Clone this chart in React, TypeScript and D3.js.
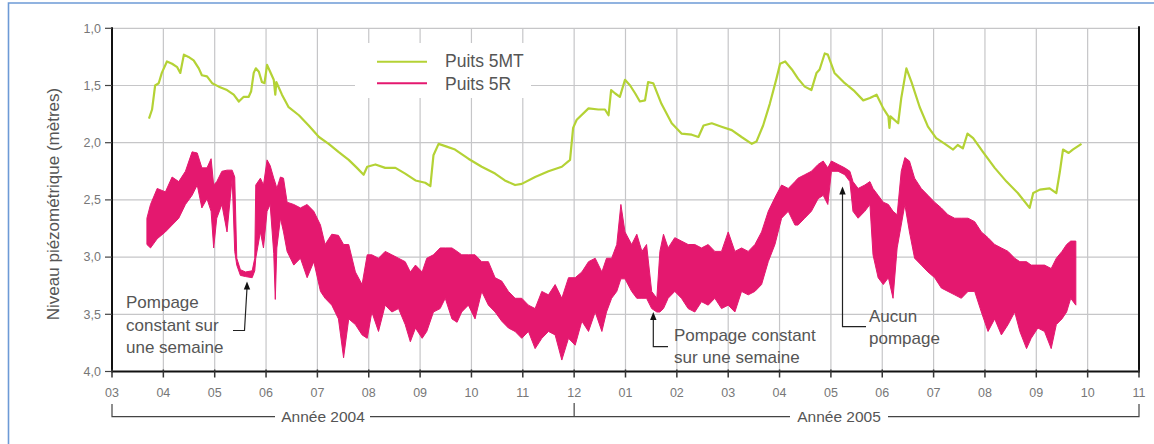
import React from "react";
import * as d3 from "d3";

// Month labels along the x axis (index 0 = March 2004, 20 = November 2005)
const monthLabels = ["03","04","05","06","07","08","09","10","11","12","01","02","03","04","05","06","07","08","09","10","11"];
const yTickValues = [1.0, 1.5, 2.0, 2.5, 3.0, 3.5, 4.0];

// Puits 5MT : time in months since 2004-03, level in metres
const mt5Time = [0.72,0.78,0.84,0.91,0.97,1.07,1.17,1.27,1.33,1.40,1.49,1.59,1.69,1.75,1.85,1.95,2.08,2.24,2.37,2.47,2.56,2.66,2.71,2.76,2.80,2.86,2.92,2.97,3.02,3.08,3.15,3.18,3.20,3.31,3.44,3.64,3.83,4.03,4.22,4.41,4.61,4.77,4.90,4.97,5.13,5.32,5.52,5.71,5.91,6.10,6.20,6.26,6.36,6.49,6.68,6.94,7.20,7.46,7.65,7.85,7.98,8.24,8.50,8.76,8.92,8.98,9.05,9.28,9.47,9.60,9.67,9.72,9.80,9.89,9.99,10.09,10.19,10.28,10.38,10.44,10.54,10.70,10.90,11.09,11.29,11.42,11.52,11.68,11.87,12.07,12.26,12.46,12.55,12.68,12.81,12.94,13.01,13.11,13.24,13.36,13.49,13.62,13.72,13.78,13.88,13.94,14.07,14.27,14.46,14.63,14.76,14.89,15.02,15.12,15.14,15.16,15.31,15.37,15.47,15.57,15.73,15.89,16.05,16.22,16.38,16.47,16.57,16.66,16.77,16.96,17.19,17.42,17.64,17.87,17.94,18.07,18.26,18.39,18.46,18.52,18.63,18.71,18.88];
const mt5Level = [1.79,1.71,1.50,1.48,1.39,1.29,1.31,1.34,1.39,1.23,1.25,1.28,1.35,1.41,1.42,1.48,1.51,1.54,1.58,1.64,1.60,1.60,1.55,1.39,1.35,1.38,1.47,1.48,1.32,1.38,1.45,1.58,1.47,1.58,1.69,1.76,1.85,1.95,2.01,2.08,2.15,2.22,2.28,2.21,2.19,2.22,2.22,2.27,2.33,2.35,2.38,2.11,2.01,2.03,2.06,2.14,2.21,2.27,2.33,2.37,2.36,2.30,2.25,2.21,2.15,1.87,1.80,1.70,1.71,1.71,1.76,1.54,1.57,1.60,1.45,1.50,1.57,1.64,1.63,1.47,1.48,1.66,1.83,1.92,1.93,1.95,1.85,1.83,1.86,1.89,1.95,2.01,1.99,1.85,1.66,1.44,1.31,1.29,1.36,1.44,1.51,1.54,1.39,1.36,1.22,1.23,1.39,1.48,1.55,1.63,1.61,1.58,1.70,1.77,1.87,1.77,1.83,1.61,1.35,1.47,1.69,1.86,1.96,2.01,2.06,2.02,2.05,1.92,1.96,2.08,2.22,2.34,2.44,2.57,2.44,2.41,2.40,2.44,2.25,2.06,2.09,2.06,2.01];

// Puits 5R : daily range (shallowest and deepest level) read at each time
const r5Time = [0.68,0.75,0.88,1.04,1.17,1.30,1.43,1.56,1.66,1.75,1.85,1.93,1.98,2.04,2.14,2.24,2.34,2.39,2.43,2.50,2.60,2.73,2.78,2.80,2.89,2.95,3.02,3.08,3.15,3.18,3.21,3.28,3.34,3.41,3.54,3.67,3.80,3.93,4.06,4.15,4.28,4.41,4.51,4.61,4.74,4.87,4.97,5.06,5.19,5.32,5.45,5.58,5.71,5.81,5.91,6.04,6.13,6.26,6.39,6.49,6.62,6.72,6.81,6.94,7.07,7.20,7.33,7.46,7.59,7.72,7.85,7.98,8.11,8.24,8.37,8.50,8.63,8.76,8.89,9.02,9.15,9.28,9.41,9.54,9.63,9.73,9.83,9.91,9.99,10.12,10.22,10.32,10.41,10.51,10.61,10.67,10.74,10.83,10.96,11.09,11.22,11.35,11.48,11.61,11.74,11.87,12.00,12.13,12.26,12.39,12.52,12.65,12.78,12.91,13.04,13.17,13.30,13.36,13.49,13.62,13.75,13.85,13.94,14.01,14.14,14.27,14.37,14.43,14.53,14.66,14.76,14.82,14.92,15.02,15.12,15.21,15.29,15.37,15.44,15.53,15.63,15.76,15.89,16.02,16.15,16.28,16.41,16.54,16.67,16.80,16.93,17.06,17.19,17.32,17.45,17.58,17.68,17.81,17.90,18.03,18.16,18.29,18.39,18.50,18.59,18.67,18.77];
const r5Shallow = [2.66,2.54,2.40,2.43,2.30,2.34,2.25,2.08,2.09,2.22,2.22,2.14,2.37,2.34,2.25,2.24,2.24,2.30,3.01,3.11,3.13,3.12,3.01,2.37,2.31,2.37,2.15,2.20,2.31,2.35,2.40,2.30,2.31,2.52,2.54,2.57,2.54,2.60,2.72,2.89,2.80,2.81,2.89,2.89,3.13,3.24,2.98,2.98,3.01,2.95,2.98,3.01,3.04,3.13,3.07,3.13,3.01,2.98,2.92,2.92,2.92,2.95,2.98,2.98,2.98,3.04,3.04,3.18,3.21,3.30,3.36,3.36,3.42,3.45,3.30,3.33,3.24,3.36,3.18,3.18,3.13,3.04,3.01,3.13,3.01,3.01,2.89,2.54,2.78,2.89,2.80,2.95,2.89,3.30,3.36,2.95,2.80,2.92,2.83,2.86,2.89,2.89,2.92,2.89,2.95,2.95,2.78,2.95,2.92,2.95,2.89,2.78,2.60,2.48,2.37,2.40,2.34,2.31,2.28,2.25,2.19,2.16,2.22,2.16,2.19,2.22,2.25,2.34,2.40,2.37,2.34,2.40,2.46,2.52,2.54,2.60,2.63,2.25,2.13,2.16,2.31,2.40,2.46,2.52,2.57,2.63,2.66,2.66,2.66,2.69,2.78,2.83,2.89,2.92,2.95,3.01,3.04,3.04,3.07,3.07,3.07,3.10,3.01,2.95,2.89,2.86,2.86];
const r5Deep = [2.89,2.92,2.84,2.78,2.72,2.66,2.54,2.46,2.37,2.57,2.49,2.60,2.92,2.66,2.54,2.78,2.31,2.95,3.07,3.16,3.17,3.18,3.12,3.01,2.78,2.92,2.60,2.54,2.97,3.37,2.92,2.66,2.78,2.95,3.07,3.01,3.18,3.04,3.30,3.36,3.42,3.54,3.88,3.54,3.59,3.68,3.71,3.48,3.65,3.42,3.48,3.45,3.59,3.74,3.62,3.71,3.65,3.48,3.45,3.36,3.54,3.57,3.48,3.42,3.54,3.30,3.42,3.48,3.56,3.62,3.65,3.71,3.65,3.80,3.71,3.65,3.68,3.90,3.71,3.77,3.56,3.65,3.48,3.65,3.48,3.36,3.30,3.19,3.19,3.30,3.36,3.36,3.36,3.45,3.48,3.48,3.45,3.36,3.30,3.36,3.45,3.48,3.39,3.42,3.36,3.45,3.42,3.48,3.30,3.33,3.30,3.24,3.04,2.89,2.66,2.60,2.72,2.72,2.66,2.60,2.49,2.46,2.54,2.25,2.25,2.28,2.34,2.60,2.66,2.60,2.54,2.98,3.18,3.24,3.18,3.36,2.92,2.72,2.54,2.78,3.01,3.07,3.13,3.18,3.27,3.30,3.33,3.36,3.30,3.30,3.48,3.65,3.54,3.68,3.59,3.48,3.65,3.80,3.71,3.62,3.65,3.80,3.59,3.54,3.48,3.36,3.42];

const seriesNames = ["Puits 5MT", "Puits 5R"];
const yearLabels = ["Année 2004", "Année 2005"];

const GREEN = "#b4d235";
const PINK = "#e4186f";
const FONT = "'Liberation Sans', Arial, sans-serif";

export default function App() {
  const x = d3.scaleLinear().domain([0, 20]).range([112, 1139]);
  const y = d3.scaleLinear().domain([1, 4]).range([28.3, 371.5]);

  const mt5 = mt5Time.map((t, i) => [t, mt5Level[i]] as [number, number]);
  const r5 = r5Time.map((t, i) => ({ t, lo: r5Shallow[i], hi: r5Deep[i] }));

  const line = d3.line<[number, number]>().x((d) => x(d[0])).y((d) => y(d[1]));
  const area = d3
    .area<{ t: number; lo: number; hi: number }>()
    .x((d) => x(d.t))
    .y0((d) => y(d.hi))
    .y1((d) => y(d.lo));

  const fmt = (v: number) => v.toFixed(1).replace(".", ",");
  const x0 = x(0), x12 = x(9), x20 = x(20);
  const yb = 416.7;

  return (
    <svg width={1154} height={444} style={{ position: "absolute", left: 0, top: 0, background: "#fff" }} fontFamily={FONT}>
      <rect x={0} y={0} width={1154} height={444} fill="#fff" />
      {/* blue frame */}
      <path d="M8.5,450 V3 H1160" fill="none" stroke="#6d9ad6" strokeWidth={1.6} />

      {/* grid */}
      {d3.range(1, 20).map((i) => (
        <line key={"gx" + i} x1={x(i)} x2={x(i)} y1={y(1)} y2={y(4)} stroke="#c6c6c8" strokeWidth={1.2} />
      ))}
      {yTickValues.slice(0, 6).map((v) => (
        <line key={"gy" + v} x1={x(0)} x2={x(20)} y1={y(v)} y2={y(v)} stroke="#c6c6c8" strokeWidth={1.2} />
      ))}

      {/* legend background */}
      <rect x={355} y={43} width={176} height={55} fill="#fff" />
      <line x1={377} x2={427} y1={61.7} y2={61.7} stroke={GREEN} strokeWidth={2} />
      <line x1={377} x2={427} y1={83.3} y2={83.3} stroke={PINK} strokeWidth={2} />
      <text x={445} y={67} fontSize={17.5} fill="#555">{seriesNames[0]}</text>
      <text x={445} y={89.5} fontSize={17.5} fill="#555">{seriesNames[1]}</text>

      {/* data */}
      <path d={area(r5) || ""} fill={PINK} stroke={PINK} strokeWidth={1} strokeLinejoin="round" />
      <path d={line(mt5) || ""} fill="none" stroke={GREEN} strokeWidth={2.2} strokeLinejoin="round" />

      {/* axes */}
      <line x1={x0} x2={x0} y1={y(1) - 1} y2={y(4) + 1} stroke="#111" strokeWidth={2} />
      <line x1={x20} x2={x20} y1={y(1) - 2} y2={y(4) + 1} stroke="#111" strokeWidth={2} />
      <line x1={x0} x2={x20} y1={y(4)} y2={y(4)} stroke="#111" strokeWidth={2} />
      {yTickValues.map((v) => (
        <g key={"yt" + v}>
          <line x1={105} x2={x0} y1={y(v)} y2={y(v)} stroke="#444" strokeWidth={1.2} />
          <text x={101} y={y(v)} dy="0.35em" textAnchor="end" fontSize={12.5} fill="#777">{fmt(v)}</text>
        </g>
      ))}
      {monthLabels.map((m, i) => (
        <g key={"xt" + i}>
          <line x1={x(i)} x2={x(i)} y1={y(4) - 2} y2={y(4) + 6} stroke="#333" strokeWidth={1.5} />
          <text x={x(i)} y={392.5} dy="0.35em" textAnchor="middle" fontSize={12.5} fill="#777">{m}</text>
        </g>
      ))}

      {/* y-axis title */}
      <text transform="translate(53,204) rotate(-90)" textAnchor="middle" dy="0.35em" fontSize={17} fill="#555">
        Niveau piézométrique (mètres)
      </text>

      {/* year brackets */}
      <g stroke="#444" strokeWidth={1.2} fill="none">
        <path d={`M${x0},404 V${yb} H275`} />
        <path d={`M370,${yb} H790`} />
        <path d={`M${x12},403 V${yb}`} />
        <path d={`M888,${yb} H${x20} V404`} />
      </g>
      <text x={323} y={yb} dy="0.35em" textAnchor="middle" fontSize={15.5} fill="#555">{yearLabels[0]}</text>
      <text x={839} y={yb} dy="0.35em" textAnchor="middle" fontSize={15.5} fill="#555">{yearLabels[1]}</text>

      {/* annotations */}
      <g fill="#555" fontSize={17}>
        <text x={126} y={308}>Pompage</text>
        <text x={126} y={330.5}>constant sur</text>
        <text x={126} y={352.5}>une semaine</text>
        <text x={674} y={341}>Pompage constant</text>
        <text x={674} y={362.5}>sur une semaine</text>
        <text x={869} y={321.7}>Aucun</text>
        <text x={869} y={343.5}>pompage</text>
      </g>
      <g stroke="#222" strokeWidth={1.2} fill="none">
        <path d="M233,330.5 H244.5 L247,288" />
        <path d="M668,346.7 H653.3 V318" />
        <path d="M866,326.7 H842.5 V193" />
      </g>
      <g fill="#111">
        <path d="M247,281.5 L243.8,289.5 L250.2,289.5 Z" />
        <path d="M653.3,312 L650.1,320 L656.5,320 Z" />
        <path d="M842.5,186.5 L839.3,194.5 L845.7,194.5 Z" />
      </g>
    </svg>
  );
}
